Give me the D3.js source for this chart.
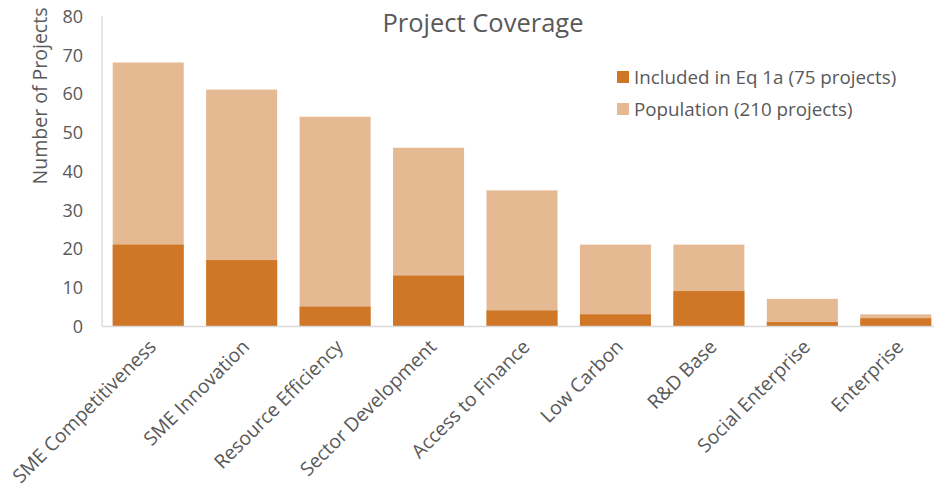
<!DOCTYPE html>
<html><head><meta charset="utf-8">
<script src="https://cdn.jsdelivr.net/npm/d3@7"></script>
<style>body{margin:0;background:#fff;} svg{display:block;font-family:"Open Sans",sans-serif;}</style>
</head><body><svg id="c" width="934" height="490"></svg>
<script>
const categories = ["SME Competitiveness","SME Innovation","Resource Efficiency","Sector Development","Access to Finance","Low Carbon","R&D Base","Social Enterprise","Enterprise"];
const population = [68,61,54,46,35,21,21,7,3];
const included = [21,17,5,13,4,3,9,1,2];
const yTicks = [0,10,20,30,40,50,60,70,80];
const seriesNames = ["Included in Eq 1a (75 projects)","Population (210 projects)"];
const colors = ["#CF7627","#E5B991"];

const svg = d3.select("#c");
const x = d3.scaleBand().domain(categories).range([101.5,942.5]).paddingInner(0.24).paddingOuter(0.12);
const y = d3.scaleLinear().domain([0,80]).range([326,16]);
const txt = "#595959";

svg.append("line").attr("x1",102).attr("x2",102).attr("y1",y(80)).attr("y2",y(0)).attr("stroke","#D9D9D9").attr("stroke-width",1.3);

svg.append("g").selectAll("rect").data(categories).join("rect")
  .attr("x",d=>x(d)).attr("width",x.bandwidth())
  .attr("y",(d,i)=>y(population[i])).attr("height",(d,i)=>y(0)-y(population[i]))
  .attr("fill",colors[1]);
svg.append("g").selectAll("rect").data(categories).join("rect")
  .attr("x",d=>x(d)).attr("width",x.bandwidth())
  .attr("y",(d,i)=>y(included[i])).attr("height",(d,i)=>y(0)-y(included[i]))
  .attr("fill",colors[0]);

svg.append("line").attr("x1",102).attr("x2",934).attr("y1",y(0)+0.5).attr("y2",y(0)+0.5).attr("stroke","#D9D9D9").attr("stroke-width",1.3);

const yAxis = svg.append("g").attr("transform","translate(83,0)")
  .call(d3.axisLeft(y).tickValues(yTicks).tickSize(0).tickPadding(0));
yAxis.select(".domain").remove();
yAxis.selectAll("text").attr("fill",txt).attr("font-size",18).attr("font-family","Open Sans").attr("dy","0.35em");

const xg = svg.append("g").attr("transform",`translate(0,${y(0)})`)
  .call(d3.axisBottom(x).tickSize(0).tickPadding(0));
xg.select(".domain").remove();
xg.selectAll("text").attr("fill",txt).attr("font-size",19.3).attr("font-family","Open Sans")
  .attr("text-anchor","end").attr("dy",0).attr("y",0)
  .attr("transform","translate(9,22) rotate(-45)");

svg.append("text").attr("transform","translate(47,96) rotate(-90)").attr("text-anchor","middle")
  .attr("fill",txt).attr("font-size",19.5).text("Number of Projects");

svg.append("text").attr("x",483).attr("y",32).attr("text-anchor","middle").attr("fill",txt).attr("font-size",25.5).text("Project Coverage");

const lg = svg.append("g");
seriesNames.forEach((n,i)=>{
  const yy = 77 + i*32;
  lg.append("rect").attr("x",617).attr("y",yy-6).attr("width",12).attr("height",12).attr("fill",colors[i]);
  lg.append("text").attr("x",634).attr("y",yy).attr("dy","0.35em").attr("fill",txt).attr("font-size",18.8).text(n);
});
</script></body></html>
